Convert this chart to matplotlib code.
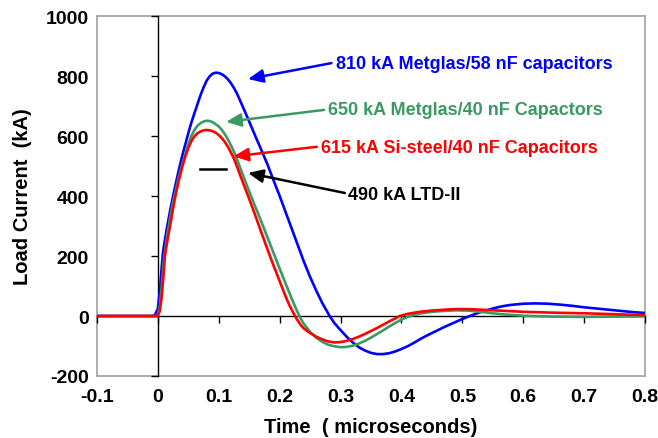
import matplotlib
matplotlib.use("Agg")
import matplotlib.pyplot as plt

plt.rcParams['font.family'] = ['Liberation Sans', 'DejaVu Sans']
plt.rcParams['font.weight'] = 'bold'

# ---- data (time in microseconds, current in kA) ----
t_blue = [-0.1, -0.01, -0.005, -0.003, -0.001, 0.0, 0.003, 0.005, 0.008, 0.01, 0.015,
          0.02, 0.025, 0.03, 0.035, 0.04, 0.045, 0.05, 0.055, 0.06, 0.065, 0.07,
          0.075, 0.08, 0.085, 0.09, 0.095, 0.10, 0.105, 0.11, 0.115, 0.12, 0.125,
          0.13, 0.134, 0.14, 0.15, 0.16, 0.17, 0.18, 0.19, 0.20, 0.21, 0.22, 0.23,
          0.24, 0.25, 0.26, 0.27, 0.282, 0.29, 0.30, 0.31, 0.32, 0.33, 0.34, 0.35,
          0.36, 0.37, 0.38, 0.39, 0.40, 0.41, 0.42, 0.43, 0.44, 0.45, 0.46, 0.47,
          0.48, 0.49, 0.50, 0.51, 0.52, 0.53, 0.54, 0.55, 0.56, 0.57, 0.58, 0.59,
          0.60, 0.62, 0.64, 0.66, 0.68, 0.70, 0.72, 0.74, 0.76, 0.78, 0.80]
i_blue = [0, 0, 3, 12, 20, 25, 80, 130, 205, 235, 295,
          350, 400, 447, 492, 534, 572, 610, 645, 676, 706, 736,
          762, 784, 799, 808, 811, 810, 806, 799, 789, 776, 760,
          741, 723, 695, 648, 600, 553, 505, 452, 400, 345, 290, 235,
          180, 130, 85, 43, 0, -24, -47, -69, -88, -104, -115, -123,
          -127, -127, -124, -118, -110, -101, -90, -78, -67, -57, -47, -37,
          -28, -19, -10, -2, 6, 13, 19, 25, 30, 34, 37, 39,
          41, 42, 41, 38, 34, 29, 25, 21, 17, 13, 10]

t_green = [-0.1, -0.003, 0.0, 0.003, 0.006, 0.01, 0.015, 0.02, 0.025, 0.03, 0.035,
           0.04, 0.045, 0.05, 0.055, 0.06, 0.065, 0.07, 0.075, 0.08, 0.085, 0.09,
           0.095, 0.10, 0.105, 0.11, 0.115, 0.12, 0.125, 0.13, 0.134, 0.14, 0.15,
           0.16, 0.17, 0.18, 0.19, 0.20, 0.21, 0.22, 0.225, 0.23, 0.235, 0.24, 0.25,
           0.26, 0.27, 0.28, 0.29, 0.30, 0.31, 0.32, 0.33, 0.34, 0.35, 0.36, 0.37,
           0.38, 0.39, 0.40, 0.414, 0.43, 0.45, 0.47, 0.49, 0.51, 0.53, 0.55, 0.57,
           0.60, 0.65, 0.70, 0.75, 0.80]
i_green = [0, 0, 5, 30, 90, 190, 265, 325, 380, 425, 468,
           505, 540, 572, 600, 620, 634, 643, 648, 651, 650, 646,
           639, 632, 620, 606, 589, 569, 547, 522, 500, 468, 415,
           364, 314, 262, 210, 158, 107, 57, 33, 10, -10, -27, -53,
           -72, -86, -96, -101, -104, -103, -99, -92, -83, -72, -60, -48,
           -35, -23, -12, 0, 8, 14, 17, 19, 18, 14, 9, 5,
           1, -2, -3, -2, -1]

t_red = [-0.1, -0.003, 0.0, 0.003, 0.006, 0.009, 0.0115, 0.015, 0.02, 0.025, 0.03,
         0.035, 0.04, 0.045, 0.05, 0.055, 0.06, 0.065, 0.07, 0.075, 0.08, 0.085,
         0.09, 0.095, 0.10, 0.105, 0.11, 0.115, 0.12, 0.125, 0.13, 0.135, 0.14,
         0.15, 0.16, 0.17, 0.18, 0.19, 0.20, 0.21, 0.216, 0.222, 0.228, 0.235, 0.24,
         0.25, 0.26, 0.27, 0.28, 0.29, 0.30, 0.31, 0.32, 0.33, 0.34, 0.35, 0.36,
         0.37, 0.38, 0.39, 0.397, 0.41, 0.43, 0.45, 0.47, 0.49, 0.51, 0.53, 0.55,
         0.57, 0.60, 0.65, 0.70, 0.75, 0.80]
i_red = [0, 0, 3, 15, 60, 130, 200, 245, 300, 360, 412,
         457, 497, 532, 560, 583, 599, 609, 615, 619, 620, 619,
         616, 611, 603, 593, 580, 564, 545, 524, 498, 470, 443,
         390, 335, 278, 222, 168, 116, 64, 36, 12, -10, -31, -42,
         -57, -69, -78, -85, -88, -87, -83, -77, -69, -60, -50, -40,
         -29, -18, -8, 0, 7, 14, 18, 21, 23, 23, 21, 19,
         17, 14, 11, 9, 6, 3]

t_ltd = [0.069, 0.112]
i_ltd = [490, 490]

labels = ["810 kA Metglas/58 nF capacitors",
          "650 kA Metglas/40 nF Capactors",
          "615 kA Si-steel/40 nF Capacitors",
          "490 kA LTD-II"]
colors = ["#0000ff", "#3a9a62", "#ff0000", "#000000"]
arrow_tips = [(0.148, 790), (0.112, 647), (0.124, 532), (0.148, 477)]
arrow_tails = [(0.285, 843), (0.273, 687), (0.261, 564), (0.307, 410)]
text_pos = [(0.292, 843), (0.279, 688), (0.268, 563), (0.312, 405)]

xticks = [-0.1, 0, 0.1, 0.2, 0.3, 0.4, 0.5, 0.6, 0.7, 0.8]
xticklabels = ["-0.1", "0", "0.1", "0.2", "0.3", "0.4", "0.5", "0.6", "0.7", "0.8"]
yticks = [-200, 0, 200, 400, 600, 800, 1000]
yticklabels = ["-200", "0", "200", "400", "600", "800", "1000"]

fig = plt.figure(figsize=(6.58, 4.39), dpi=100)
pos = [97/658, 62/439, 548/658, 360/439]

# background axes: gray frame + tick labels
ax = fig.add_axes(pos)
ax.set_xlim(-0.1, 0.8)
ax.set_ylim(-200, 1000)
ax.set_xticks(xticks)
ax.set_xticklabels(xticklabels)
ax.set_yticks(yticks)
ax.set_yticklabels(yticklabels)
ax.tick_params(length=0, labelsize=14, pad=6)
ax.tick_params(axis='x', pad=9)
for s in ax.spines.values():
    s.set_color('#a0a0a0')
    s.set_linewidth(1.2)
ax.set_xlabel("Time  ( microseconds)", fontsize=14.5, fontweight='bold', labelpad=8)
ax.set_ylabel("Load Current  (kA)", fontsize=14.5, fontweight='bold', labelpad=10)

# overlay axes: axis lines through zero and curves
ax2 = fig.add_axes(pos, zorder=2)
ax2.patch.set_visible(False)
ax2.set_xlim(-0.1, 0.8)
ax2.set_ylim(-200, 1000)
ax2.spines['top'].set_visible(False)
ax2.spines['right'].set_visible(False)
ax2.spines['left'].set_position(('data', 0))
ax2.spines['bottom'].set_position(('data', 0))
for k in ('left', 'bottom'):
    ax2.spines[k].set_color('black')
    ax2.spines[k].set_linewidth(1.0)
ax2.set_xticks(xticks)
ax2.set_yticks(yticks)
ax2.tick_params(direction='out', length=5, width=1, labelbottom=False, labelleft=False)

ax2.plot(t_blue, i_blue, color=colors[0], lw=1.9, zorder=3, solid_joinstyle='round')
ax2.plot(t_green, i_green, color=colors[1], lw=1.9, zorder=3, solid_joinstyle='round')
ax2.plot(t_red, i_red, color=colors[2], lw=1.9, zorder=3, solid_joinstyle='round')
ax2.plot(t_ltd, i_ltd, color=colors[3], lw=1.8, zorder=3)

for lab, c, tip, tail, tp in zip(labels, colors, arrow_tips, arrow_tails, text_pos):
    ax2.annotate('', xy=tip, xytext=tail,
                 arrowprops=dict(arrowstyle='-|>,head_length=0.9,head_width=0.4',
                                 color=c, lw=1.8, shrinkA=0, shrinkB=0))
    ax2.text(tp[0], tp[1], lab, color=c, fontsize=13, fontweight='bold',
             ha='left', va='center')

fig.savefig("out.png", dpi=100)
